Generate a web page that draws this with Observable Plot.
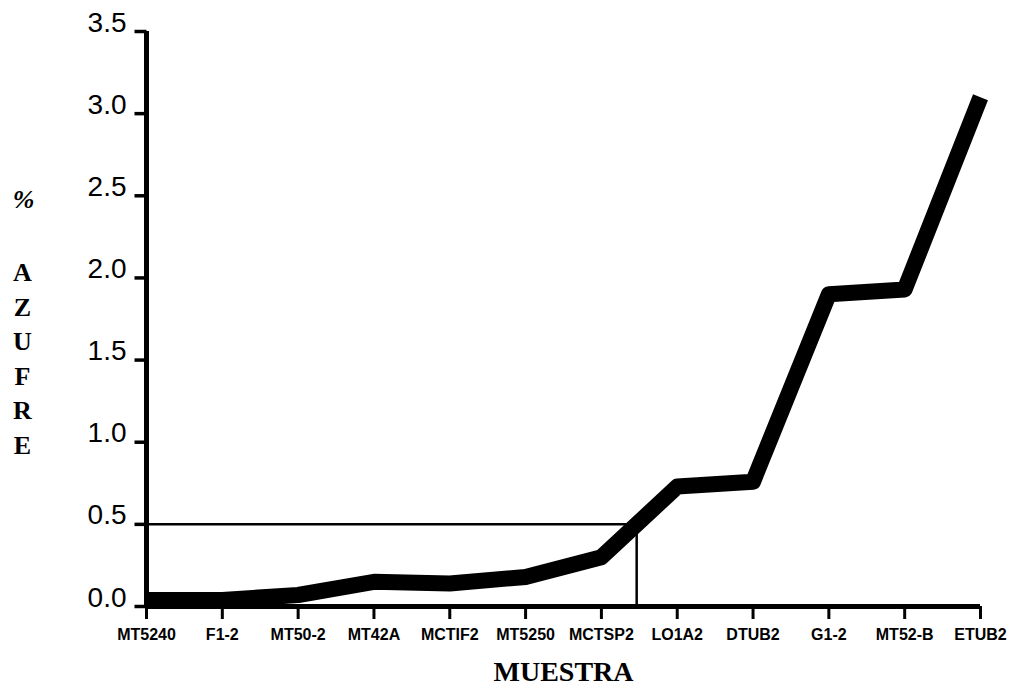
<!DOCTYPE html>
<html>
<head>
<meta charset="utf-8">
<script src="https://cdn.jsdelivr.net/npm/d3@7"></script>
<script src="https://cdn.jsdelivr.net/npm/@observablehq/plot@0.6"></script>
<style>
  html, body { margin: 0; padding: 0; background: #fff; }
  #chart svg { display: block; }
</style>
</head>
<body>
<div id="chart"></div>
<script>
const samples = ["MT5240","F1-2","MT50-2","MT42A","MCTIF2","MT5250","MCTSP2","LO1A2","DTUB2","G1-2","MT52-B","ETUB2"];
const sulfur  = [0.04, 0.04, 0.07, 0.15, 0.14, 0.18, 0.30, 0.73, 0.76, 1.90, 1.93, 3.10];
const threshold = 0.5;
const yTicks = [0, 0.5, 1.0, 1.5, 2.0, 2.5, 3.0, 3.5];
const yLabel = "%";
const yTitle = "AZUFRE";
const xTitle = "MUESTRA";

const rows = samples.map((s, i) => ({i, sample: s, value: sulfur[i]}));

// where the line crosses the threshold (linear interpolation between samples)
let cross = 0;
for (let i = 0; i < sulfur.length - 1; i++) {
  if (sulfur[i] < threshold && sulfur[i + 1] >= threshold) {
    cross = i + (threshold - sulfur[i]) / (sulfur[i + 1] - sulfur[i]);
    break;
  }
}

const serif = "'Liberation Serif', 'DejaVu Serif', serif";
const sans = "'Liberation Sans', Arial, sans-serif";

const W = 1019, ML = 146, MR = 39;
const xMax = samples.length - 1;
const yTickLen = 12 * xMax / (W - ML - MR); // 12px expressed in x units

const chart = Plot.plot({
  width: W,
  height: 690,
  marginLeft: ML,
  marginRight: MR,
  marginTop: 31,
  marginBottom: 84,
  style: {background: "#fff", color: "#000", fontFamily: sans, overflow: "visible"},
  x: {type: "linear", domain: [0, xMax], axis: null},
  y: {domain: [0, 3.5], axis: null},
  marks: [
    // y axis
    Plot.ruleX([0], {stroke: "#000", strokeWidth: 5}),
    Plot.link(yTicks, {x1: -yTickLen, x2: 0, y1: d => d, y2: d => d, stroke: "#000", strokeWidth: 3.5}),
    Plot.axisY(yTicks, {
      label: null, tickSize: 0, tickPadding: 20,
      tickFormat: d => d.toFixed(1), lineAnchor: "bottom",
      fontSize: 28, fontFamily: sans, fill: "#000"
    }),
    // x axis
    Plot.ruleY([0], {stroke: "#000", strokeWidth: 5}),
    Plot.axisX(d3.range(samples.length), {
      label: null, tickSize: 13, tickPadding: 9, strokeWidth: 3,
      tickFormat: i => samples[i],
      fontSize: 16, fontWeight: "bold", fontFamily: sans, fill: "#000", stroke: "#000"
    }),
    // threshold guide lines
    Plot.ruleY([threshold], {x1: 0, x2: cross, stroke: "#000", strokeWidth: 2.5}),
    Plot.ruleX([cross], {y1: 0, y2: threshold, stroke: "#000", strokeWidth: 2.5}),
    // data line
    Plot.line(rows, {x: "i", y: "value", stroke: "#000", strokeWidth: 16,
      strokeLinejoin: "round", strokeLinecap: "butt"}),
    // titles
    Plot.text([yLabel], {frameAnchor: "top-left", textAnchor: "middle", lineAnchor: "middle", dx: -123, dy: 168,
      fontSize: 26, fontFamily: serif, fontWeight: "bold", fontStyle: "italic", fill: "#000"}),
    Plot.text([yTitle.split("").join("\n")], {frameAnchor: "top-left", textAnchor: "middle", lineAnchor: "middle", dx: -124, dy: 325,
      lineHeight: 1.33, fontSize: 26, fontFamily: serif, fontWeight: "bold", fill: "#000"}),
    Plot.text([xTitle], {frameAnchor: "bottom", lineAnchor: "middle", dy: 66,
      fontSize: 28, fontFamily: serif, fontWeight: "bold", fill: "#000"})
  ]
});
document.getElementById("chart").append(chart);
</script>
</body>
</html>
